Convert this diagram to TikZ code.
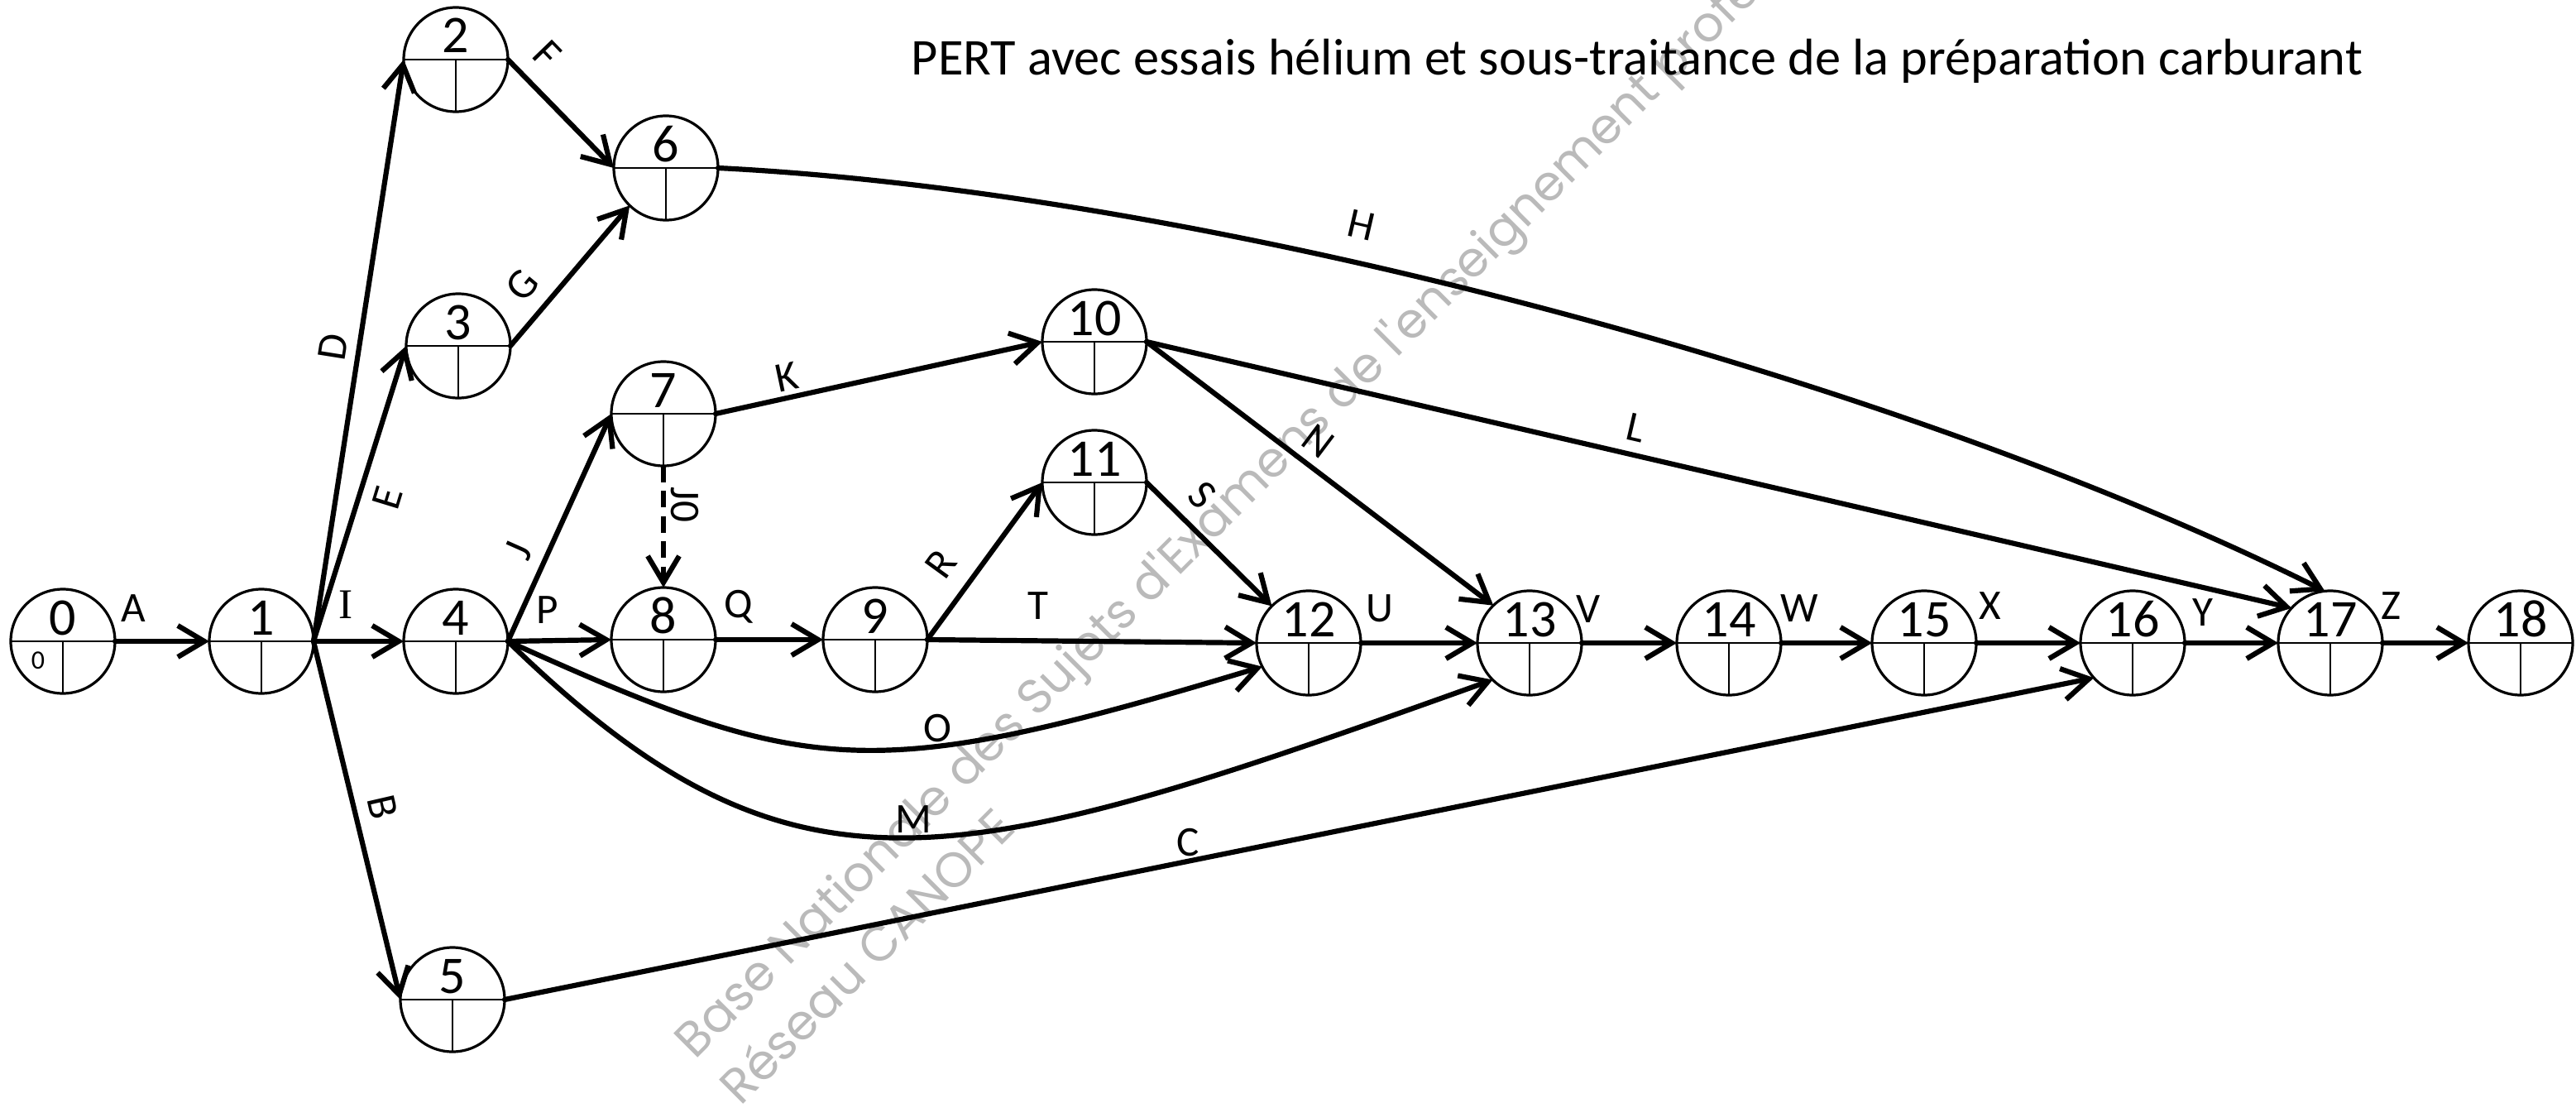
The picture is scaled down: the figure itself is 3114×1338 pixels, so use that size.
\documentclass[tikz,border=0pt]{standalone}
\usepackage{fontspec}
\setmainfont{Carlito}
\newfontfamily\wmfont{Poppins}
\newfontfamily\serifI{Liberation Serif}
\usetikzlibrary{arrows.meta}
\newcommand\evnode[3]{%
  \node[evt] (n#1) at (#2,#3) {};
  \draw[sepline] (n#1.west) -- (n#1.east) (n#1.center) -- (n#1.south);
  \node[num] (t#1) at ([yshift=2pt]n#1.center) {#1};}
\begin{document}
\begin{tikzpicture}[x=0.25pt,y=-0.25pt,
  evt/.style={circle,draw,line width=0.8pt,minimum size=31.5pt,inner sep=0pt,outer sep=0pt},
  sepline/.style={line width=0.65pt},
  num/.style={anchor=base,font=\fontsize{16}{18}\selectfont,inner sep=0pt},
  act/.style={line width=1.55pt,line cap=round,-{Straight Barb[length=8pt,width=9.5pt]}},
  dummy/.style={act,dash pattern=on 5pt off 2.6pt,line cap=butt},
  lbl/.style={font=\fontsize{12.8}{15}\selectfont,inner sep=0pt},
  wm/.style={font=\wmfont\fontsize{14.8}{17}\selectfont,text=black!27,inner sep=0pt,rotate=45,anchor=base west},
]
\useasboundingbox (0,0) rectangle (3114,1338);
\begin{scope}
\clip (0,0) rectangle (3114,1338);
\node[wm] (wm1) at (840,1282) {Base Nationale des Sujets d'Examens de l'enseignement professionnel};
\node[wm] (wm2) at (895,1338) {Réseau CANOPE};
\end{scope}

\node[anchor=base,font=\fontsize{15.6}{18}\selectfont,inner sep=0pt] (title) at (1979,90) {PERT avec essais hélium et sous-traitance de la préparation carburant};

\evnode{0}{76}{775}
\evnode{1}{316}{775}
\evnode{2}{551}{72}
\evnode{3}{554}{418}
\evnode{4}{551}{775}
\evnode{5}{547}{1208}
\evnode{6}{805}{203}
\evnode{7}{802}{500}
\evnode{8}{802}{773}
\evnode{9}{1058}{773}
\evnode{10}{1323}{413}
\evnode{11}{1323}{583}
\evnode{12}{1582}{777}
\evnode{13}{1849}{777}
\evnode{14}{2090}{777}
\evnode{15}{2326}{777}
\evnode{16}{2578}{777}
\evnode{17}{2817}{777}
\evnode{18}{3047}{777}
\node[font=\fontsize{8}{10}\selectfont,inner sep=0pt] (s0) at (46,798) {0};

% activities
\draw[act] (n0.east) -- (n1.west);
\draw[act] (n1.east) -- (n2.west);
\draw[act] (n1.east) -- (n3.west);
\draw[act] (n1.east) -- (n4.west);
\draw[act] (n1.east) -- (n5.west);
\draw[act] (n2.east) -- (n6.west);
\draw[act] (n3.east) -- (n6.226);
\draw[act] (n6.east) .. controls (1468,233) and (2305,462) .. (n17.96);
\draw[act] (n4.east) -- (n7.west);
\draw[act] (n4.east) -- (n8.west);
\draw[act] (n4.east) .. controls (978,939) and (1048,950) .. (n12.207);
\draw[act] (n4.east) .. controls (960,1111) and (1150,1056) .. (n13.225);
\draw[act] (n5.east) -- (n16.222);
\draw[act] (n7.east) -- (n10.west);
\draw[dummy] (n7.south) -- (n8.north);
\draw[act] (n8.east) -- (n9.west);
\draw[act] (n9.east) -- (n11.west);
\draw[act] (n9.east) -- (n12.west);
\draw[act] (n11.east) -- (n12.135);
\draw[act] (n10.east) -- (n13.134);
\draw[act] (n10.east) -- (n17.138);
\draw[act] (n12.east) -- (n13.west);
\draw[act] (n13.east) -- (n14.west);
\draw[act] (n14.east) -- (n15.west);
\draw[act] (n15.east) -- (n16.west);
\draw[act] (n16.east) -- (n17.west);
\draw[act] (n17.east) -- (n18.west);

% labels
\node[lbl] (lA) at (161,735) {A};
\node[lbl,rotate=81] (lD) at (403,419) {D};
\node[lbl,rotate=73] (lE) at (468,602) {E};
\node[lbl] (lI) at (418,731) {\serifI I};
\node[lbl,rotate=-77] (lB) at (463,975) {B};
\node[lbl,rotate=-46] (lF) at (661,66) {F};
\node[lbl,rotate=50] (lG) at (631,345) {G};
\node[lbl,rotate=-13] (lH) at (1646,272) {H};
\node[lbl,rotate=66] (lJ) at (627,665) {J};
\node[lbl] (lP) at (662,737) {P};
\node[lbl] (lO) at (1133,880) {O};
\node[lbl] (lM) at (1104,990) {M};
\node[lbl] (lC) at (1436,1018) {C};
\node[lbl,rotate=12] (lK) at (951,456) {K};
\node[lbl,rotate=-90] (lJ0) at (828,610) {J0};
\node[lbl] (lQ) at (893,733) {Q};
\node[lbl,rotate=54] (lR) at (1137,682) {R};
\node[lbl] (lT) at (1255,732) {T};
\node[lbl,rotate=-45] (lS) at (1453,598) {S};
\node[lbl,rotate=-37] (lN) at (1594,533) {N};
\node[lbl,rotate=-13] (lL) at (1978,517) {L};
\node[lbl] (lU) at (1668,735) {U};
\node[lbl] (lV) at (1920,736) {V};
\node[lbl] (lW) at (2175,735) {W};
\node[lbl] (lX) at (2406,732) {X};
\node[lbl] (lY) at (2663,740) {Y};
\node[lbl] (lZ) at (2890,732) {Z};
\end{tikzpicture}
\end{document}
